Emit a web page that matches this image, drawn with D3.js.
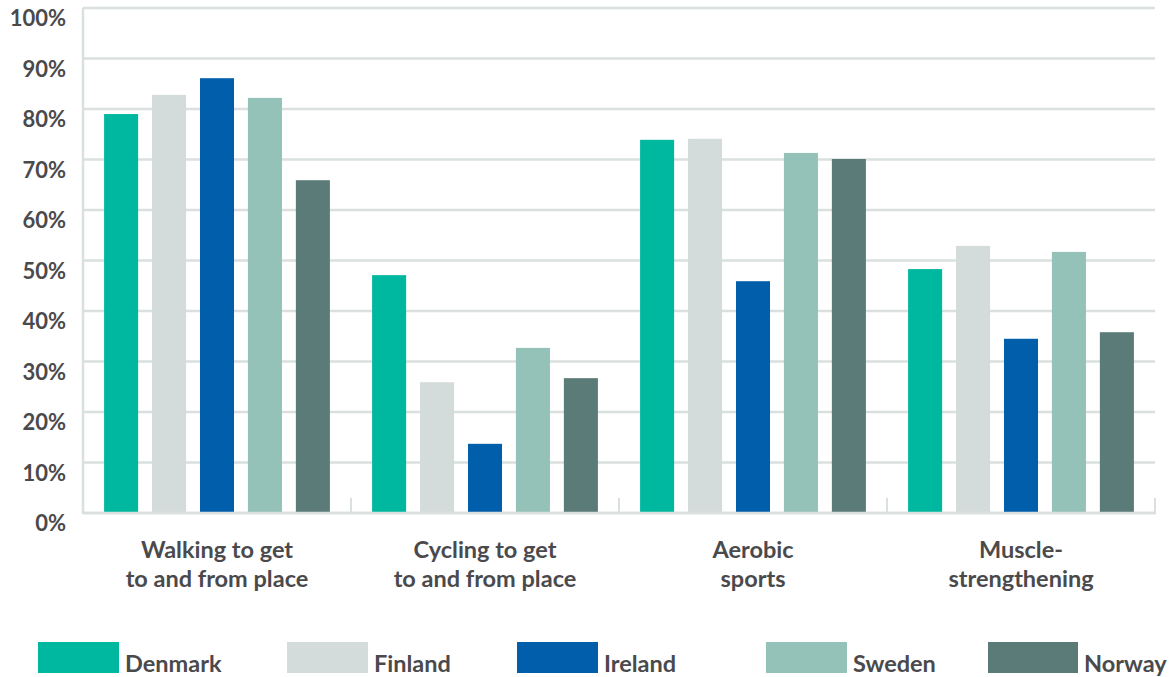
<!DOCTYPE html>
<html>
<head>
<meta charset="utf-8">
<script src="https://cdn.jsdelivr.net/npm/d3@7"></script>
<style>
  html, body { margin: 0; padding: 0; background: #fff; }
  svg { display: block; }
  text { font-family: Lato, "Open Sans", sans-serif; font-weight: 700; fill: #4a4a4d; }
</style>
</head>
<body>
<svg id="chart" width="1169" height="677"></svg>
<script>
// Activity categories (two-line labels)
const categories = [
  ["Walking to get", "to and from place"],
  ["Cycling to get", "to and from place"],
  ["Aerobic", "sports"],
  ["Muscle-", "strengthening"]
];
const countries = ["Denmark", "Finland", "Ireland", "Sweden", "Norway"];

// Share of respondents (%) per category, one array per country
const denmark = [79.0, 47.1, 73.9, 48.3];
const finland = [82.8, 25.9, 74.1, 52.9];
const ireland = [86.1, 13.7, 45.9, 34.5];
const sweden  = [82.2, 32.7, 71.3, 51.7];
const norway  = [65.9, 26.7, 70.1, 35.8];

const yTicks = [0, 10, 20, 30, 40, 50, 60, 70, 80, 90, 100];

const seriesValues = [denmark, finland, ireland, sweden, norway];
const colors = ["#00b89f", "#d4dcdb", "#005eab", "#94c2b8", "#5b7b78"];

const svg = d3.select("#chart");
const plot = { left: 83, right: 1155, top: 8, bottom: 513 };

const catKeys = categories.map((c, i) => i);
const x0 = d3.scaleBand().domain(catKeys).range([plot.left, plot.right]).padding(0);
const x1 = d3.scaleBand().domain(countries).range([0, x0.bandwidth()])
  .paddingInner(0.29).paddingOuter(0.44);
const y = d3.scaleLinear().domain([0, 100]).range([plot.bottom, plot.top]);

const gridColor = "#d9e0de";

// horizontal gridlines
svg.append("g")
  .selectAll("line")
  .data(yTicks)
  .join("line")
  .attr("x1", plot.left).attr("x2", plot.right)
  .attr("y1", d => y(d)).attr("y2", d => y(d))
  .attr("stroke", gridColor).attr("stroke-width", 2.5);

// left axis line
svg.append("line")
  .attr("x1", plot.left).attr("x2", plot.left)
  .attr("y1", plot.top).attr("y2", plot.bottom + 1)
  .attr("stroke", gridColor).attr("stroke-width", 2.5);

// y tick labels sit just below their gridlines
svg.append("g")
  .selectAll("text")
  .data(yTicks)
  .join("text")
  .attr("x", 66)
  .attr("y", d => y(d) + 18)
  .attr("text-anchor", "end")
  .style("font-size", "22px")
  .text(d => d + "%");

// bars
const groups = svg.append("g")
  .selectAll("g")
  .data(catKeys)
  .join("g")
  .attr("transform", d => `translate(${x0(d)},0)`);

groups.selectAll("rect")
  .data(ci => countries.map((c, si) => ({ country: c, si, value: seriesValues[si][ci] })))
  .join("rect")
  .attr("x", d => x1(d.country))
  .attr("width", x1.bandwidth())
  .attr("y", d => y(d.value))
  .attr("height", d => y(0) - y(d.value))
  .attr("fill", d => colors[d.si]);

// category separator ticks on the baseline
const sepX = catKeys.slice(1).map(d => x0(d)).concat([plot.right]);
svg.append("g")
  .selectAll("line")
  .data(sepX)
  .join("line")
  .attr("x1", d => d).attr("x2", d => d)
  .attr("y1", plot.bottom - 15).attr("y2", plot.bottom)
  .attr("stroke", gridColor).attr("stroke-width", 2);

// baseline
svg.append("line")
  .attr("x1", plot.left).attr("x2", plot.right + 1)
  .attr("y1", plot.bottom).attr("y2", plot.bottom)
  .attr("stroke", gridColor).attr("stroke-width", 2.5);

// category labels
const catLabels = svg.append("g")
  .selectAll("text")
  .data(catKeys)
  .join("text")
  .attr("x", d => x0(d) + x0.bandwidth() / 2)
  .attr("y", 558)
  .attr("text-anchor", "middle")
  .style("font-size", "23.5px");
catLabels.selectAll("tspan")
  .data(d => categories[d])
  .join("tspan")
  .attr("x", function () { return d3.select(this.parentNode).attr("x"); })
  .attr("dy", (d, i) => i === 0 ? 0 : 29)
  .text(d => d);

// legend
const legendX = [38, 287, 517, 766, 988];
const legendW = [81, 81, 81, 81, 90];
const legend = svg.append("g")
  .selectAll("g")
  .data(countries)
  .join("g")
  .attr("transform", (d, i) => `translate(${legendX[i]},642)`);
legend.append("rect")
  .attr("width", (d, i) => legendW[i])
  .attr("height", 31)
  .attr("fill", (d, i) => colors[i]);
legend.append("text")
  .attr("x", (d, i) => legendW[i] + 6)
  .attr("y", 30)
  .style("font-size", "23.5px")
  .text(d => d);
</script>
</body>
</html>
